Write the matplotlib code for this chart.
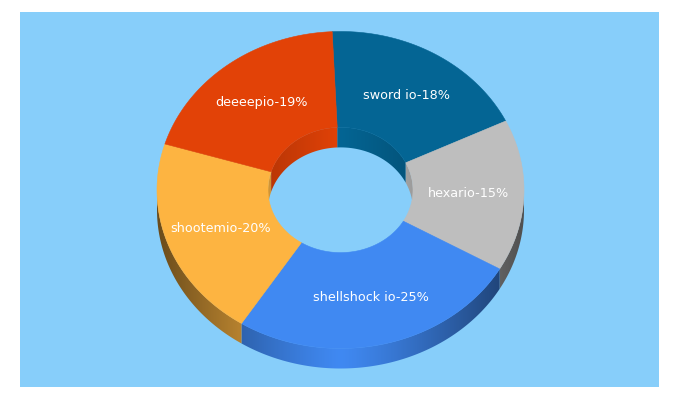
"""
Exploded-style 3D donut of game site shares, drawn by hand on a pixel canvas.
"""

import numpy
import matplotlib
matplotlib.use('Agg')
import matplotlib.pylab as plt
from matplotlib.patches import Polygon, Rectangle

labels = ['sword io', 'hexario', 'shellshock io', 'shootemio', 'deeeepio']
values = [18, 15, 25, 20, 19]
colors = ['#046594', '#BEBEBE', '#4089F2', '#FDB441', '#E24207']

BG = '#87CEFA'
CX, CY = 340.5, 190.0
RX, RY = 183.5, 158.5
HOLE = 0.395
DEPTH = 20.0
START = -2.6


def arc(a0, a1, frac=1.0, shift=0.0):
    # angles in degrees, clockwise from the top of the ellipse
    t = numpy.radians(numpy.linspace(a0, a1, max(int(abs(a1 - a0)) * 2, 2)))
    return numpy.column_stack((CX + frac * RX * numpy.sin(t),
                               CY - frac * RY * numpy.cos(t) + shift))


def shade_image(color, dark, power):
    # brightness falls away from the middle of the donut towards both sides
    x = numpy.linspace(CX - RX, CX + RX, 256)
    k = 1 - (1 - dark) * numpy.abs((x - CX) / RX) ** power
    rgb = numpy.array(matplotlib.colors.to_rgb(color))
    return (k[:, None] * rgb)[None, :, :]


def draw_wall(ax, color, pts, dark, power):
    patch = Polygon(pts, closed=True, fc='none', ec='none')
    ax.add_patch(patch)
    img = ax.imshow(shade_image(color, dark, power), aspect='auto',
                    extent=(CX - RX, CX + RX, 400, 0), zorder=2,
                    interpolation='bilinear')
    img.set_clip_path(patch)


fig = plt.figure(figsize=(6.8, 4.0), dpi=100, facecolor='white')
ax = fig.add_axes([0, 0, 1, 1])
ax.add_patch(Rectangle((20, 12), 639, 375, fc=BG, ec='none', zorder=0))

angles = START + numpy.cumsum([0] + values) / float(sum(values)) * 360

for i, color in enumerate(colors):
    a0, a1 = angles[i], angles[i + 1]

    # outer wall, only the part facing the viewer (90..270 degrees)
    lo, hi = max(a0, 90), min(a1, 270)
    if lo < hi:
        pts = numpy.vstack((arc(lo, hi), arc(hi, lo, shift=DEPTH)))
        draw_wall(ax, color, pts, 0.42, 1.2)

    # inner wall, seen through the hole on its far side
    for lo, hi in ((a0, min(a1, 90)), (max(a0, 270), a1)):
        if lo < hi:
            pts = numpy.vstack((arc(lo, hi, HOLE),
                                arc(hi, lo, HOLE, shift=DEPTH)))
            draw_wall(ax, color, pts, 0.55, 1.0)

for i, color in enumerate(colors):
    a0, a1 = angles[i], angles[i + 1]
    pts = numpy.vstack((arc(a0, a1), arc(a1, a0, HOLE)))
    ax.add_patch(Polygon(pts, closed=True, fc=color, ec=color, lw=0.4,
                         zorder=3))

    mid = numpy.radians((a0 + a1) / 2.0)
    frac = (1 + HOLE) / 2.0
    ax.text(CX + frac * RX * numpy.sin(mid), CY - frac * RY * numpy.cos(mid),
            '{0}-{1}%'.format(labels[i], values[i]), color='white',
            fontsize=9.2, family='DejaVu Sans', ha='center', va='center',
            zorder=4)

ax.set_xlim(0, 680)
ax.set_ylim(400, 0)
ax.axis('off')
fig.savefig('out.png', dpi=100, facecolor='white')
